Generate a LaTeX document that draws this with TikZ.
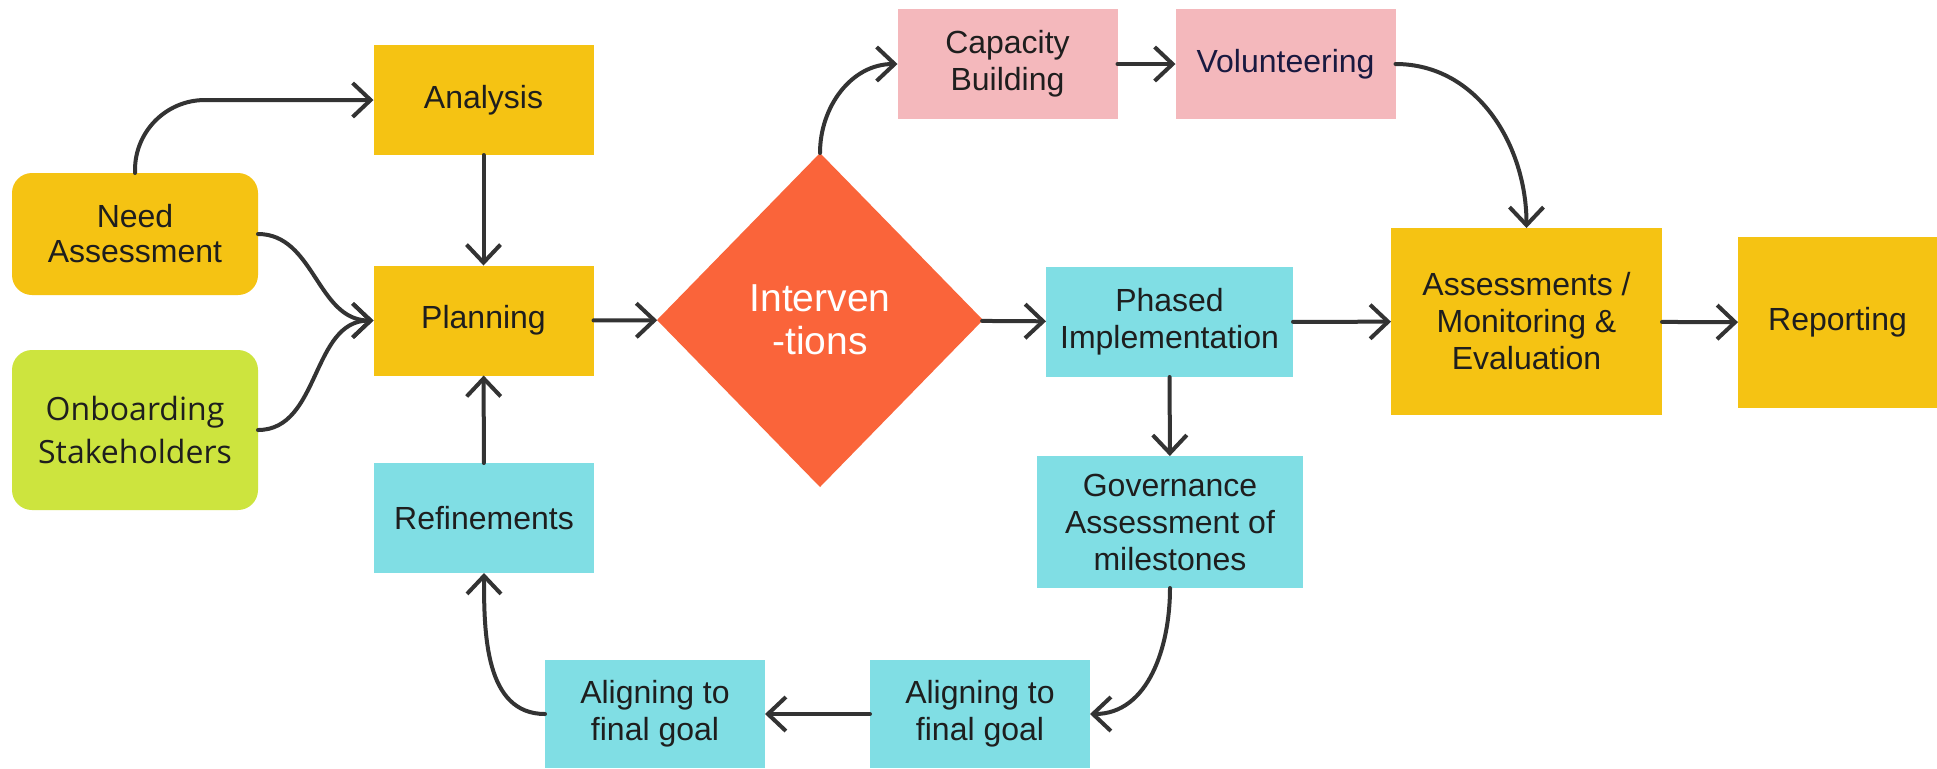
\documentclass[tikz,border=0pt]{standalone}
\usepackage{fontspec}
\setmainfont{Liberation Sans}
\newfontfamily\opensans{Open Sans}
\usepackage{tikz}
\usetikzlibrary{shapes.geometric,arrows,arrows.meta,calc,positioning}

\definecolor{gold}{HTML}{F5C313}
\definecolor{lime}{HTML}{CDE43E}
\definecolor{aqua}{HTML}{80DEE4}
\definecolor{rose}{HTML}{F4B8BC}
\definecolor{flame}{HTML}{FA643A}
\definecolor{ink}{HTML}{1E1E1E}
\definecolor{wire}{HTML}{333333}

\begin{document}
\begin{tikzpicture}[x = 0.5pt, y = -0.5pt]
	\tikzstyle{every node} = [inner sep = 0pt, outer sep = 0pt, align = center, text = ink, font = \fontsize{16}{18.5}\selectfont]
	\tikzstyle{box} = [rectangle, minimum width = 110pt, minimum height = 55pt]
	\tikzstyle{pill} = [rectangle, rounded corners = 10pt, minimum width = 123pt]
	\tikzstyle{link} = [draw = wire, line width = 2pt, line cap = round, -{Straight Barb[length = 9pt, width = 17pt]}]
	\fill[white] (0, 0) rectangle (1937, 768);
	\useasboundingbox (0, 0) rectangle (1937, 768);
\node[pill, fill = gold, minimum height = 61pt, font = \fontsize{16}{17.5}\selectfont] (0) at (135, 234) {Need\\Assessment};
\node[pill, fill = lime, minimum height = 80pt, font = \opensans\fontsize{16}{21.5}\selectfont] (1) at (135, 430) {Onboarding\\Stakeholders};
\node[box, fill = gold] (2) at (483.5, 100) {Analysis};
\node[box, fill = gold] (3) at (483.5, 320.5) {Planning};
\node[box, fill = aqua] (4) at (484, 518) {Refinements};
\node[diamond, fill = flame, minimum width = 163pt, minimum height = 167pt, text = white, font = \fontsize{19.5}{21.5}\selectfont] (5) at (820, 320) {Interven\\-tions};
\node[box, fill = rose] (6) at (1007.5, 64) {Capacity\\Building};
\node[box, fill = rose, text = ink!85!blue] (7) at (1285.5, 64) {Volunteering};
\node[box, fill = aqua, minimum width = 123.5pt] (8) at (1169.5, 322) {Phased\\Implementation};
\node[box, fill = aqua, minimum width = 133pt, minimum height = 66pt] (9) at (1170, 522) {Governance\\Assessment of\\milestones};
\node[box, fill = aqua, minimum height = 54pt] (10) at (980, 714) {Aligning to\\final goal};
\node[box, fill = aqua, minimum height = 54pt] (11) at (655, 714) {Aligning to\\final goal};
\node[box, fill = gold, minimum width = 135.5pt, minimum height = 93.5pt] (12) at (1526.5, 321.5) {Assessments /\\Monitoring \&\\Evaluation};
\node[box, fill = gold, minimum width = 99.5pt, minimum height = 85.5pt] (13) at (1837.5, 322.5) {Reporting};
	\path[link, rounded corners = 35pt] (0.north) |- (2.west);
	\path[link] (0.east) to[out = 0, in = 180] (3.west);
	\path[link] (1.east) to[out = 0, in = 180] (3.west);
	\path[link] (2) -- (3);
	\path[link] (4) -- (3);
	\path[link] (3) -- (5);
	\path[link] (5.north) to[out = 90, in = 180] (6.west);
	\path[link] (6) -- (7);
	\path[link] (7.east) to[out = 0, in = 90] (12.north);
	\path[link] (5) -- (8);
	\path[link] (8) -- (12);
	\path[link] (12) -- (13);
	\path[link] (8) -- (9);
	\path[link] (9.south) to[out = -90, in = 0] (10.east);
	\path[link] (10) -- (11);
	\path[link] (11.west) to[out = 180, in = -90] (4.south);
	\end{tikzpicture}
\end{document}
